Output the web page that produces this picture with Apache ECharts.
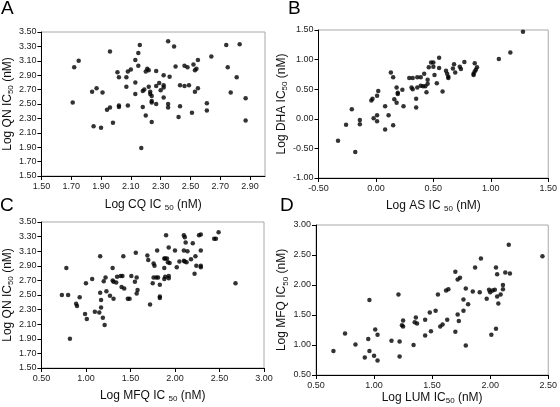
<!DOCTYPE html>
<html>
<head>
<meta charset="utf-8">
<script src="https://cdn.jsdelivr.net/npm/echarts@6/dist/echarts.min.js"></script>
<style>
html,body{margin:0;padding:0;background:#fff;}
#chart{width:560px;height:407px;}
</style>
</head>
<body>
<div id="chart"></div>
<script>
// Panel A: Log CQ IC50 vs Log QN IC50
const cqA = [1.71,1.72,1.75,1.84,1.87,1.85,1.90,1.91,1.96,1.94,1.96,1.98,2.01,2.02,2.02,2.02,2.16,2.15,2.13,2.15,2.07,2.08,2.10,2.13,2.07,2.13,2.08,2.17,2.18,2.19,2.18,2.20,2.20,2.21,2.22,2.22,2.23,2.23,2.24,2.24,2.24,2.24,2.35,2.39,2.32,2.36,2.27,2.27,2.29,2.30,2.32,2.32,2.32,2.27,2.35,2.35,2.40,2.43,2.46,2.49,2.46,2.48,2.43,2.42,2.51,2.52,2.53,2.54,2.55,2.53,2.55,2.64,2.61,2.61,2.74,2.83,2.75,2.81,2.77,2.87,2.87];
const qnA = [2.52,3.01,3.10,2.67,2.72,2.19,2.17,2.66,3.23,2.42,2.45,2.24,2.94,2.87,2.46,2.48,3.32,3.21,3.11,3.03,2.87,2.95,2.98,2.80,2.74,2.64,2.48,1.89,2.68,2.70,2.46,2.34,2.95,2.99,2.97,2.74,2.67,2.64,2.61,2.54,2.52,2.25,3.37,3.30,2.90,2.88,2.96,2.75,2.79,2.69,2.76,2.73,2.59,2.50,2.50,2.45,3.02,2.76,2.75,2.76,3.03,3.01,2.47,2.32,2.38,3.05,2.97,2.99,3.11,2.67,2.72,3.16,2.51,2.41,3.32,3.33,3.01,2.87,2.66,2.58,2.27];

// Panel B: Log AS IC50 vs Log DHA IC50
const asB = [-0.33,-0.18,-0.26,-0.21,-0.14,-0.14,-0.04,-0.03,0.02,0.01,-0.02,0.01,0.01,0.08,0.11,0.08,0.13,0.15,0.18,0.19,0.19,0.16,0.18,0.15,0.23,0.24,0.29,0.32,0.32,0.31,0.35,0.35,0.36,0.36,0.39,0.39,0.42,0.41,0.43,0.45,0.45,0.44,0.46,0.48,0.50,0.50,0.55,0.55,0.51,0.53,0.58,0.61,0.62,0.63,0.63,0.68,0.67,0.69,0.73,0.74,0.77,0.86,0.88,0.87,0.86,0.85,0.85,1.07,1.17,1.28];
const dhaB = [-0.37,-0.56,-0.10,0.16,-0.02,-0.09,0.31,0.34,0.47,0.39,0.01,0.06,-0.04,0.21,0.06,-0.18,0.78,0.70,0.53,0.44,0.42,0.33,0.27,-0.11,0.49,0.21,0.69,0.69,0.50,0.53,0.34,0.19,0.53,0.70,0.70,0.56,0.76,0.55,0.55,0.59,0.66,0.45,0.87,0.95,0.95,0.88,1.03,0.86,0.74,0.60,0.46,0.81,0.76,0.71,0.69,0.92,0.85,0.78,0.88,0.84,0.96,0.94,0.87,0.83,0.80,0.76,0.74,1.01,1.12,1.47];

// Panel C: Log MFQ IC50 vs Log QN IC50
const mfqC = [0.73,0.80,0.78,0.82,0.93,0.89,0.90,0.99,1.01,1.00,1.07,1.10,1.15,1.16,1.17,1.17,1.16,1.19,1.21,1.22,1.20,1.23,1.27,1.30,1.30,1.31,1.34,1.31,1.35,1.39,1.41,1.42,1.40,1.43,1.47,1.49,1.51,1.56,1.55,1.57,1.58,1.57,1.69,1.70,1.72,1.76,1.77,1.75,1.76,1.79,1.81,1.83,1.83,1.83,1.80,1.88,1.89,1.91,1.88,1.90,1.93,1.92,1.94,1.88,1.89,1.93,1.93,2.00,2.02,2.05,2.10,2.11,2.10,2.14,2.12,2.10,2.11,2.13,2.18,2.20,2.23,2.22,2.24,2.27,2.29,2.29,2.29,2.29,2.44,2.46,2.49,2.68];
const qnC = [2.50,2.50,2.87,1.90,2.47,2.38,2.35,2.24,2.17,2.66,2.72,2.27,2.26,3.03,2.33,2.43,2.53,2.19,2.09,2.74,2.69,2.55,2.49,2.87,2.70,2.68,2.67,2.45,2.75,2.76,2.76,3.03,2.61,2.59,2.45,2.45,2.76,3.08,2.68,2.74,2.57,2.52,3.04,2.98,2.37,2.93,2.90,2.66,2.74,2.74,2.74,2.64,2.48,2.46,3.11,3.00,3.00,3.00,2.87,3.32,3.15,2.95,2.94,2.72,2.75,2.76,2.73,3.11,2.88,2.96,3.32,3.29,3.11,3.10,3.22,2.97,2.96,2.95,2.99,3.21,3.03,2.79,2.90,3.32,3.33,3.11,2.90,2.88,3.27,3.27,3.36,2.66];

// Panel D: Log LUM IC50 vs Log MFQ IC50
const lumD = [0.65,0.75,0.84,0.92,0.96,0.95,0.96,1.00,1.01,1.03,1.03,1.15,1.21,1.22,1.22,1.24,1.25,1.25,1.34,1.35,1.37,1.36,1.44,1.44,1.48,1.49,1.53,1.55,1.57,1.59,1.63,1.62,1.64,1.70,1.72,1.74,1.72,1.73,1.70,1.77,1.77,1.79,1.81,1.79,1.85,1.87,1.91,1.92,1.97,1.99,2.00,2.02,2.04,2.01,2.05,2.05,2.06,2.06,2.07,2.09,2.11,2.11,2.13,2.17,2.16,2.45];
const mfqD = [0.90,1.19,1.01,0.79,1.75,1.10,0.90,0.82,1.26,1.17,0.74,1.07,1.84,1.06,0.81,1.33,1.31,1.41,1.00,1.38,1.36,1.46,1.42,1.16,1.54,1.23,1.57,1.84,1.31,1.34,1.42,1.91,1.93,2.22,2.09,2.12,1.51,1.40,1.22,1.76,1.57,1.94,1.68,0.99,1.89,2.29,1.88,2.44,1.77,1.92,1.88,1.91,1.92,1.17,1.27,2.29,2.18,1.81,1.69,1.84,2.00,1.93,2.21,2.19,2.67,2.48];

// Tick label values
const ticksA_x = [1.5,1.7,1.9,2.1,2.3,2.5,2.7,2.9];
const ticksQN = [1.5,1.7,1.9,2.1,2.3,2.5,2.7,2.9,3.1,3.3,3.5];

const chart = echarts.init(document.getElementById('chart'), null, {renderer:'canvas'});
const FONT = 'Liberation Sans, Arial, sans-serif';
const labelStyle = {color:'#222', fontSize:9, fontFamily:FONT, formatter: v => (Math.round(v*100)/100).toFixed(2)};
const rich = {
  a:{fontSize:12, fontFamily:FONT, color:'#111', lineHeight:15},
  s:{fontSize:8, fontFamily:FONT, color:'#111', lineHeight:15, verticalAlign:'bottom', padding:[6,0,0,0]}
};
function axName(pre, gapSpace){ return '{a|' + pre + (gapSpace?' ':'') + '}{s|50}{a| (nM)}'; }

function xAxis(gi, min, max, name, gap, custom, interval){
  const ax = {
    type:'value', gridIndex:gi, min:min, max:max,
    name:name, nameLocation:'middle', nameGap:gap,
    nameTextStyle:{rich:rich},
    axisLine:{show:true, onZero:false, lineStyle:{color:'#000', width:1}},
    axisTick:{show:true, inside:false, length:4, lineStyle:{color:'#000'}},
    axisLabel:Object.assign({margin:6}, labelStyle),
    splitLine:{show:false}
  };
  if (custom){ ax.axisTick.customValues = custom; ax.axisLabel.customValues = custom; }
  else ax.interval = interval;
  return ax;
}
function yAxis(gi, min, max, name, gap, custom, interval){
  const ax = {
    type:'value', gridIndex:gi, min:min, max:max,
    name:name, nameLocation:'middle', nameGap:gap, nameRotate:90,
    nameTextStyle:{rich:rich},
    axisLine:{show:true, onZero:false, lineStyle:{color:'#000', width:1}},
    axisTick:{show:true, inside:false, length:4, lineStyle:{color:'#000'}},
    axisLabel:Object.assign({margin:5}, labelStyle),
    splitLine:{show:false}
  };
  if (custom){ ax.axisTick.customValues = custom; ax.axisLabel.customValues = custom; }
  else ax.interval = interval;
  return ax;
}
function pairs(xs, ys){ return xs.map((x,i)=>[x, ys[i]]); }
function grid(l,t,r,b){ return {left:l, top:t, width:r-l, height:b-t, show:true, borderColor:'#a8a8a8', borderWidth:1, backgroundColor:'#fff', containLabel:false}; }

const option = {
  animation:false,
  backgroundColor:'#fff',
  grid:[
    grid(36,32,265,176),
    grid(318.5,30,550,178),
    grid(36,222,264,368),
    grid(316,225,552,375)
  ],
  xAxis:[
    xAxis(0,1.5,3.0,axName('Log CQ IC',true),21,ticksA_x),
    xAxis(1,-0.5,1.5,axName('Log AS IC',true),20,null,0.5),
    xAxis(2,0.5,3.0,axName('Log MFQ IC',true),20,null,0.5),
    xAxis(3,0.5,2.5,axName('Log LUM IC',false),13,null,0.5)
  ],
  yAxis:[
    yAxis(0,1.5,3.5,axName('Log QN IC',false),25,ticksQN),
    yAxis(1,-1.0,1.5,axName('Log DHA IC',false),26,null,0.5),
    yAxis(2,1.5,3.5,axName('Log QN IC',false),25,ticksQN),
    yAxis(3,0.5,3.0,axName('Log MFQ IC',false),24,null,0.5)
  ],
  series:[
    {type:'scatter', xAxisIndex:0, yAxisIndex:0, data:pairs(cqA,qnA)},
    {type:'scatter', xAxisIndex:1, yAxisIndex:1, data:pairs(asB,dhaB)},
    {type:'scatter', xAxisIndex:2, yAxisIndex:2, data:pairs(mfqC,qnC)},
    {type:'scatter', xAxisIndex:3, yAxisIndex:3, data:pairs(lumD,mfqD)}
  ].map(s => Object.assign(s, {symbol:'circle', symbolSize:4.5, itemStyle:{color:'#000'}, silent:true})),
  graphic:[
    {type:'text', left:1, top:-1, style:{text:'A', fontSize:19, fontFamily:FONT, fill:'#000'}},
    {type:'text', left:288, top:-1, style:{text:'B', fontSize:19, fontFamily:FONT, fill:'#000'}},
    {type:'text', left:0, top:196, style:{text:'C', fontSize:19, fontFamily:FONT, fill:'#000'}},
    {type:'text', left:280, top:196, style:{text:'D', fontSize:19, fontFamily:FONT, fill:'#000'}}
  ]
};
chart.setOption(option);
</script>
</body>
</html>
